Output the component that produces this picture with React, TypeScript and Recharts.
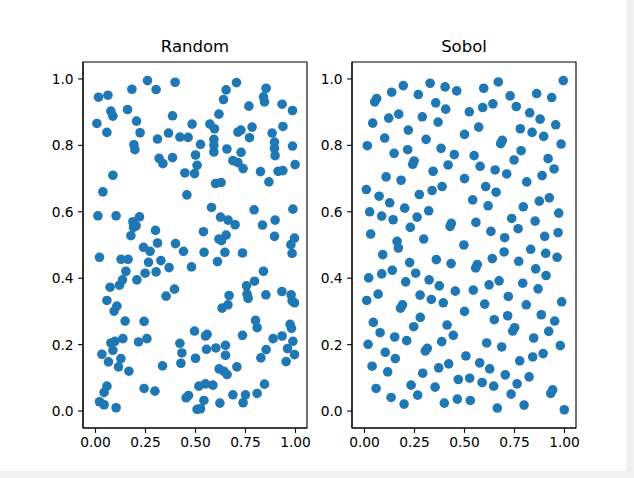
import React from 'react';
import { ScatterChart, Scatter, XAxis, YAxis, ReferenceArea } from 'recharts';

const xTicks = [0, 0.25, 0.5, 0.75, 1];
const yTicks = [0, 0.2, 0.4, 0.6, 0.8, 1];
const titles = ['Random', 'Sobol'];

const randomPoints: [number, number][] = [
  [0.015,0.945],[0.062,0.951],[0.182,0.969],[0.26,0.995],[0.303,0.968],[0.398,0.99],[0.077,0.903],[0.087,0.888],[0.16,0.908],[0.007,0.866],[0.057,0.839],[0.205,0.873],[0.223,0.838],[0.385,0.889],[0.483,0.864],[0.365,0.837],[0.31,0.819],[0.422,0.825],[0.463,0.824],[0.192,0.802],[0.197,0.787],[0.318,0.761],[0.337,0.745],[0.385,0.763],[0.5,0.771],[0.447,0.717],[0.495,0.715],[0.087,0.71],
  [0.705,0.989],[0.653,0.967],[0.853,0.972],[0.64,0.938],[0.84,0.946],[0.845,0.931],[0.767,0.918],[0.933,0.924],[0.985,0.905],[0.617,0.894],[0.572,0.864],[0.595,0.85],[0.783,0.855],[0.937,0.857],[0.712,0.84],[0.727,0.846],[0.77,0.823],[0.883,0.837],[0.592,0.818],[0.592,0.8],[0.592,0.78],[0.525,0.803],[0.895,0.81],[0.895,0.79],[0.898,0.769],[0.985,0.798],[0.657,0.789],[0.728,0.779],[0.687,0.754],[0.712,0.748],[0.738,0.73],[0.508,0.74],[0.825,0.721],[0.913,0.722],[0.937,0.724],[0.998,0.742],[0.867,0.69],[0.6,0.685],[0.628,0.688],
  [0.037,0.66],[0.457,0.651],[0.012,0.588],[0.103,0.588],[0.22,0.585],[0.187,0.57],[0.203,0.558],[0.19,0.553],[0.177,0.528],[0.3,0.544],[0.31,0.506],[0.24,0.493],[0.273,0.481],[0.4,0.504],[0.44,0.481],[0.02,0.463],[0.128,0.457],[0.163,0.457],[0.265,0.448],[0.327,0.453],[0.368,0.432],[0.48,0.434],[0.152,0.421],[0.248,0.415],[0.303,0.419],[0.135,0.395],[0.207,0.395],[0.073,0.373],[0.12,0.379],[0.395,0.367],[0.353,0.346],[0.057,0.333],
  [0.58,0.613],[0.793,0.606],[0.987,0.608],[0.625,0.584],[0.663,0.575],[0.698,0.561],[0.835,0.56],[0.898,0.575],[0.54,0.54],[0.653,0.53],[0.617,0.518],[0.63,0.513],[0.895,0.526],[0.995,0.521],[0.977,0.501],[0.983,0.475],[0.543,0.478],[0.647,0.478],[0.735,0.476],[0.61,0.45],[0.84,0.421],[0.795,0.391],[0.755,0.377],[0.758,0.352],[0.763,0.339],[0.852,0.35],[0.932,0.36],[0.978,0.35],[0.983,0.332],[0.995,0.326],[0.668,0.348],[0.662,0.32],[0.633,0.31],
  [0.093,0.301],[0.107,0.316],[0.148,0.271],[0.243,0.27],[0.495,0.241],[0.077,0.205],[0.097,0.21],[0.087,0.183],[0.137,0.218],[0.215,0.208],[0.257,0.218],[0.032,0.171],[0.065,0.148],[0.127,0.158],[0.115,0.133],[0.167,0.12],[0.335,0.136],[0.422,0.204],[0.432,0.175],[0.427,0.144],[0.5,0.159],[0.057,0.075],[0.043,0.056],[0.02,0.028],[0.043,0.019],[0.103,0.01],[0.243,0.068],[0.297,0.06],[0.465,0.047],[0.453,0.04],
  [0.8,0.273],[0.808,0.251],[0.973,0.261],[0.98,0.249],[0.558,0.231],[0.55,0.226],[0.735,0.228],[0.888,0.218],[0.933,0.226],[0.987,0.21],[0.555,0.186],[0.602,0.19],[0.65,0.198],[0.65,0.168],[0.853,0.185],[0.827,0.16],[0.96,0.188],[0.995,0.17],[0.953,0.149],[0.618,0.127],[0.642,0.12],[0.658,0.11],[0.707,0.133],[0.517,0.075],[0.55,0.082],[0.587,0.078],[0.845,0.081],[0.687,0.049],[0.75,0.049],[0.738,0.025],[0.808,0.053],[0.542,0.032],[0.622,0.024],[0.508,0.005],[0.525,0.007],
];

const sobolPoints: [number, number][] = [
  [0.194,0.98],[0.328,0.987],[0.403,0.976],[0.461,0.964],[0.136,0.96],[0.269,0.953],[0.061,0.941],[0.051,0.931],[0.356,0.928],[0.406,0.909],[0.171,0.894],[0.121,0.882],[0.289,0.886],[0.368,0.87],[0.041,0.867],[0.219,0.846],[0.101,0.822],[0.308,0.818],[0.5,0.833],[0.014,0.799],[0.383,0.791],[0.148,0.776],[0.216,0.787],[0.449,0.772],[0.248,0.753],[0.241,0.743],[0.418,0.741],[0.108,0.705],[0.183,0.695],[0.343,0.722],[0.5,0.7],[0.009,0.667],[0.388,0.676],
  [0.994,0.995],[0.669,0.991],[0.596,0.972],[0.861,0.956],[0.936,0.944],[0.728,0.949],[0.642,0.925],[0.591,0.914],[0.759,0.917],[0.524,0.901],[0.826,0.898],[0.878,0.879],[0.956,0.862],[0.571,0.855],[0.779,0.85],[0.838,0.839],[0.896,0.827],[0.689,0.815],[0.681,0.805],[0.983,0.804],[0.783,0.784],[0.548,0.769],[0.748,0.756],[0.918,0.76],[0.578,0.737],[0.653,0.726],[0.711,0.714],[0.948,0.729],[0.888,0.709],[0.606,0.676],[0.811,0.69],
  [0.338,0.664],[0.274,0.652],[0.073,0.647],[0.126,0.627],[0.201,0.611],[0.026,0.6],[0.321,0.603],[0.086,0.587],[0.143,0.576],[0.263,0.584],[0.434,0.565],[0.428,0.556],[0.229,0.553],[0.031,0.533],[0.296,0.518],[0.163,0.511],[0.169,0.491],[0.497,0.5],[0.091,0.471],[0.359,0.456],[0.226,0.447],[0.433,0.444],[0.139,0.424],[0.086,0.413],[0.256,0.415],[0.021,0.401],[0.206,0.389],[0.323,0.395],[0.374,0.377],[0.454,0.361],[0.068,0.352],[0.278,0.349],[0.011,0.333],[0.334,0.336],[0.394,0.326],[0.18,0.31],[0.19,0.32],
  [0.658,0.659],[0.541,0.636],[0.618,0.618],[0.794,0.615],[0.874,0.632],[0.924,0.642],[0.971,0.596],[0.736,0.58],[0.853,0.572],[0.557,0.568],[0.632,0.541],[0.768,0.549],[0.701,0.522],[0.901,0.526],[0.968,0.537],[0.831,0.487],[0.698,0.479],[0.906,0.475],[0.963,0.463],[0.639,0.459],[0.771,0.451],[0.564,0.441],[0.556,0.431],[0.856,0.428],[0.908,0.408],[0.673,0.392],[0.623,0.38],[0.791,0.385],[0.544,0.364],[0.868,0.368],[0.719,0.345],[0.601,0.322],[0.809,0.32],[0.986,0.329],
  [0.5,0.3],[0.279,0.282],[0.044,0.267],[0.246,0.254],[0.413,0.259],[0.078,0.236],[0.151,0.223],[0.444,0.228],[0.211,0.212],[0.018,0.201],[0.386,0.209],[0.314,0.189],[0.304,0.181],[0.104,0.177],[0.154,0.158],[0.507,0.166],[0.038,0.135],[0.116,0.118],[0.291,0.114],[0.371,0.13],[0.421,0.142],[0.469,0.095],[0.058,0.068],[0.233,0.078],[0.353,0.072],[0.133,0.041],[0.266,0.048],[0.198,0.021],[0.399,0.024],[0.464,0.036],
  [0.649,0.275],[0.716,0.287],[0.884,0.29],[0.951,0.271],[0.751,0.251],[0.741,0.241],[0.921,0.24],[0.846,0.22],[0.611,0.205],[0.686,0.193],[0.979,0.197],[0.576,0.145],[0.776,0.151],[0.841,0.163],[0.893,0.173],[0.626,0.127],[0.526,0.099],[0.588,0.086],[0.646,0.075],[0.704,0.109],[0.763,0.082],[0.823,0.103],[0.733,0.051],[0.941,0.064],[0.931,0.053],[0.529,0.032],[0.664,0.009],[0.798,0.018],[0.999,0.004],
];

const X_DOMAIN: [number, number] = [-0.0625, 1.0575];
const Y_DOMAIN: [number, number] = [-0.051, 1.051];
const COLOR = '#1f77b4';
const FONT = '"DejaVu Sans", "Liberation Sans", sans-serif';
const PLOT_W = 224;

const Dot = (props: any) => (
  <circle cx={props.cx} cy={props.cy} r={4.8} fill={COLOR} />
);

function Panel({ title, points, left, yAxisWidth }: { title: string; points: [number, number][]; left: number; yAxisWidth: number }) {
  const data = points.map(([x, y]) => ({ x, y }));
  const tickStyle = { fill: '#000', fontSize: 13.8, fontFamily: FONT };
  return (
    <div style={{ position: 'absolute', left, top: 0 }}>
      <div
        style={{
          position: 'absolute',
          left: yAxisWidth,
          width: PLOT_W,
          top: 37,
          height: 20,
          lineHeight: '20px',
          textAlign: 'center',
          fontFamily: FONT,
          fontSize: 16.5,
          color: '#000',
        }}
      >
        {title}
      </div>
      <ScatterChart
        width={yAxisWidth + PLOT_W + 10}
        height={478}
        margin={{ top: 62, right: 10, bottom: 0, left: 0 }}
      >
        <XAxis
          type="number"
          dataKey="x"
          domain={X_DOMAIN}
          allowDataOverflow
          ticks={xTicks}
          interval={0}
          tickFormatter={(v: number) => v.toFixed(2)}
          height={50}
          tickSize={4.9}
          tickMargin={4.5}
          stroke="#000"
          tickLine={{ stroke: '#000', strokeWidth: 1.1 }}
          axisLine={{ stroke: '#000', strokeWidth: 1.1 }}
          tick={tickStyle}
        />
        <YAxis
          type="number"
          dataKey="y"
          domain={Y_DOMAIN}
          allowDataOverflow
          ticks={yTicks}
          interval={0}
          tickFormatter={(v: number) => v.toFixed(1)}
          width={yAxisWidth}
          tickSize={4.9}
          tickMargin={4.5}
          stroke="#000"
          tickLine={{ stroke: '#000', strokeWidth: 1.1 }}
          axisLine={{ stroke: '#000', strokeWidth: 1.1 }}
          tick={tickStyle}
        />
        <Scatter data={data} shape={Dot} isAnimationActive={false} />
        <ReferenceArea
          x1={X_DOMAIN[0]}
          x2={X_DOMAIN[1]}
          y1={Y_DOMAIN[0]}
          y2={Y_DOMAIN[1]}
          fill="none"
          fillOpacity={0}
          stroke="#000"
          strokeWidth={1.1}
          ifOverflow="visible"
        />
      </ScatterChart>
    </div>
  );
}

export default function App() {
  return (
    <div style={{ position: 'absolute', left: 0, top: 0, width: 634, height: 478, background: '#f0f0f0', overflow: 'hidden' }}>
      <div style={{ position: 'absolute', left: 0, top: 0, width: 626, height: 471, background: '#fff' }} />
      <Panel title={titles[0]} points={randomPoints} left={0} yAxisWidth={83} />
      <Panel title={titles[1]} points={sobolPoints} left={270} yAxisWidth={82} />
    </div>
  );
}
